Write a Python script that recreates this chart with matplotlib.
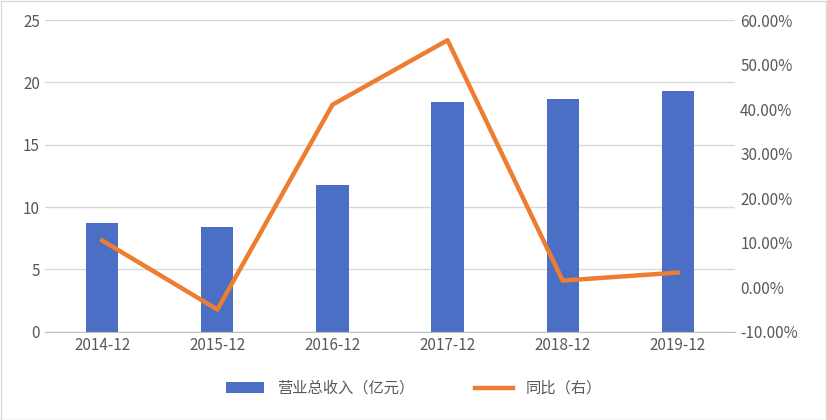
import matplotlib
matplotlib.use("Agg")
import matplotlib.pyplot as plt
from matplotlib.ticker import FuncFormatter

plt.rcParams['font.family'] = ['Noto Sans CJK SC', 'DejaVu Sans']

categories = ['2014-12', '2015-12', '2016-12', '2017-12', '2018-12', '2019-12']
revenue = [8.7, 8.4, 11.8, 18.4, 18.7, 19.3]
yoy = [10.5, -5.0, 41.0, 55.5, 1.5, 3.3]

fig = plt.figure(figsize=(8.28, 4.2), dpi=100)
ax = fig.add_axes([0.054, 0.21, 0.834, 0.742])
x = range(len(categories))
ax.bar(x, revenue, width=0.28, color='#4A6FC4', label='营业总收入（亿元）', zorder=2)
ax.set_ylim(0, 25)
ax.set_yticks(range(0, 26, 5))
ax.set_xlim(-0.5, len(categories) - 0.5)
ax.set_xticks(list(x))
ax.set_xticklabels(categories)
ax.grid(axis='y', color='#D9D9D9', lw=1, zorder=0)
for s in ['top', 'left', 'right']:
    ax.spines[s].set_visible(False)
ax.spines['bottom'].set_color('#BFBFBF')
ax.tick_params(length=0, labelsize=11, colors='#595959')

ax2 = ax.twinx()
ax2.plot(x, yoy, color='#ED7D31', lw=3.2, label='同比（右）', zorder=3)
ax2.set_ylim(-10, 60)
ax2.set_yticks(range(-10, 61, 10))
ax2.yaxis.set_major_formatter(FuncFormatter(lambda v, p: f'{v:.2f}%'))
for s in ['top', 'left', 'right', 'bottom']:
    ax2.spines[s].set_visible(False)
ax2.tick_params(length=0, labelsize=11, colors='#595959')

h1, l1 = ax.get_legend_handles_labels()
h2, l2 = ax2.get_legend_handles_labels()
fig.legend(h1 + h2, l1 + l2, loc='center', bbox_to_anchor=(0.5, 0.075), ncol=2,
           frameon=False, fontsize=11, labelcolor='#595959', columnspacing=4, handlelength=2.5)

fig.patches.append(plt.Rectangle((0.001, 0.001), 0.997, 0.997, transform=fig.transFigure,
                                 fill=False, edgecolor='#D9D9D9', lw=1))
fig.savefig('out.png', dpi=100)
